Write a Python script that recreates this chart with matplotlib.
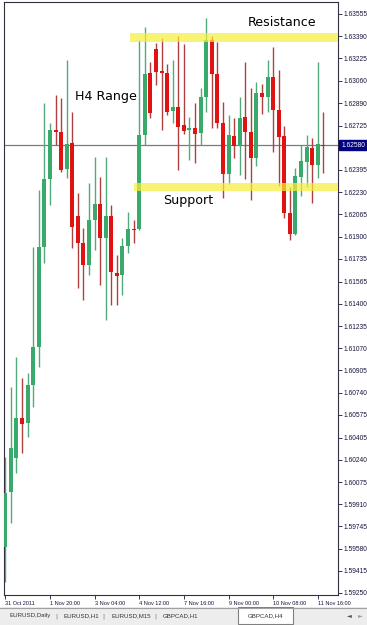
import matplotlib.pyplot as plt
from matplotlib import font_manager
from matplotlib.patches import Rectangle

# GBPCAD H4 candles
opens = [1.59592, 1.60001, 1.60254, 1.60551, 1.60514, 1.60797, 1.61079, 1.61823, 1.62328, 1.62693,
         1.62678, 1.62403, 1.62596, 1.62053, 1.61852, 1.61689, 1.62023, 1.62142, 1.61890, 1.62053,
         1.61629, 1.61615, 1.61830, 1.61956, 1.61956, 1.62655, 1.63116, 1.63295, 1.63131, 1.63116,
         1.62834, 1.62864, 1.62730, 1.62693, 1.62707, 1.62670, 1.62938, 1.63362, 1.63109, 1.62745,
         1.62365, 1.62648, 1.62574, 1.62789, 1.62678, 1.62484, 1.62968, 1.62938, 1.63087, 1.62841,
         1.62648, 1.62075, 1.61919, 1.62343, 1.62455, 1.62559, 1.62432, 1.62581]
highs = [1.60261, 1.60782, 1.61005, 1.60849, 1.60886, 1.61823, 1.62246, 1.62893, 1.62745, 1.62953,
         1.62930, 1.63213, 1.62826, 1.62224, 1.61964, 1.62298, 1.62492, 1.62343, 1.62492, 1.62135,
         1.61763, 1.61890, 1.62083, 1.62023, 1.63362, 1.63458, 1.63198, 1.63339, 1.63377, 1.63183,
         1.63213, 1.63391, 1.63332, 1.62789, 1.62893, 1.63005, 1.63525, 1.63391, 1.63347, 1.62901,
         1.62804, 1.62782, 1.62938, 1.63198, 1.63005, 1.63049, 1.63035, 1.63213, 1.63310, 1.63139,
         1.62722, 1.62269, 1.62410, 1.62581, 1.62655, 1.62633, 1.63198, 1.62826]
lows = [1.59332, 1.59771, 1.60142, 1.60291, 1.60410, 1.60633, 1.60930, 1.61704, 1.62135, 1.62581,
        1.62380, 1.62336, 1.61815, 1.61518, 1.61429, 1.61615, 1.61800, 1.61540, 1.61280, 1.61391,
        1.61391, 1.61466, 1.61778, 1.61852, 1.61949, 1.62581, 1.62782, 1.63027, 1.62693, 1.62804,
        1.62745, 1.62395, 1.62663, 1.62470, 1.62447, 1.62581, 1.62826, 1.62707, 1.62707, 1.62187,
        1.62291, 1.62484, 1.62358, 1.62328, 1.62172, 1.62425, 1.62812, 1.62826, 1.62529, 1.62276,
        1.62038, 1.61875, 1.61912, 1.62202, 1.62269, 1.62150, 1.62336, 1.62373]
closes = [1.59994, 1.60328, 1.60551, 1.60507, 1.60797, 1.61079, 1.61823, 1.62328, 1.62693, 1.62678,
          1.62395, 1.62588, 1.61971, 1.61852, 1.61689, 1.62023, 1.62142, 1.61890, 1.62053, 1.61637,
          1.61607, 1.61830, 1.61956, 1.61949, 1.62655, 1.63109, 1.62819, 1.63124, 1.63116, 1.62826,
          1.62864, 1.62715, 1.62685, 1.62707, 1.62663, 1.62938, 1.63362, 1.63109, 1.62745, 1.62365,
          1.62655, 1.62574, 1.62782, 1.62678, 1.62484, 1.62968, 1.62938, 1.63087, 1.62841, 1.62641,
          1.62075, 1.61919, 1.62351, 1.62462, 1.62566, 1.62432, 1.62588, 1.62574]

price_ticks = [1.63555, 1.63390, 1.63225, 1.63060, 1.62890, 1.62725, 1.62395, 1.62230,
               1.62065, 1.61900, 1.61735, 1.61565, 1.61400, 1.61235, 1.61070, 1.60905,
               1.60740, 1.60575, 1.60405, 1.60240, 1.60075, 1.59910, 1.59745, 1.59580,
               1.59415, 1.59250]
time_labels = ['31 Oct 2011', '1 Nov 20:00', '3 Nov 04:00', '4 Nov 12:00',
               '7 Nov 16:00', '9 Nov 00:00', '10 Nov 08:00', '11 Nov 16:00']
label_step = 8
last_price = 1.62580
resistance = 1.63380
support = 1.62270
tabs = ['EURUSD,Daily', 'EURUSD,H1', 'EURUSD,M15', 'GBPCAD,H1', 'GBPCAD,H4']

up_col, up_wick = '#3aaa6c', '#52a97c'
dn_col, dn_wick = '#e01212', '#b04040'
axis_col = '#14143c'

have = {f.name for f in font_manager.fontManager.ttflist}
small_font = 'Liberation Sans Narrow' if 'Liberation Sans Narrow' in have else 'Liberation Sans'

fig = plt.figure(figsize=(3.67, 6.25), dpi=100)
renderer = fig.canvas.get_renderer()


def fit_size(s, family, target_px):
    # font size that makes string s about target_px wide
    t = fig.text(0, 0, s, fontsize=10, family=family)
    w = t.get_window_extent(renderer).width
    t.remove()
    return 10 * target_px / w


ysize = fit_size('1.63555', small_font, 24)
xsize = fit_size('1 Nov 20:00', small_font, 30)
tabsize = fit_size('EURUSD,Daily', small_font, 41)
big = fit_size('Resistance', 'DejaVu Sans', 68)

ax = fig.add_axes([4 / 367, 30 / 625, 334 / 367, 593 / 625])

for i in range(len(opens)):
    o, h, l, c = opens[i], highs[i], lows[i], closes[i]
    up = c >= o
    ax.vlines(i, l, h, color=up_wick if up else dn_wick, lw=1, zorder=2)
    ax.bar(i, max(abs(c - o), 0.00003), bottom=min(o, c), width=0.72,
           color=up_col if up else dn_col, lw=0, zorder=3)

# support / resistance zones
ax.axhspan(resistance - 0.00033, resistance + 0.00033, xmin=0.378, xmax=1,
           color='#f6ef3c', alpha=0.72, lw=0, zorder=4)
ax.axhspan(support - 0.00031, support + 0.00031, xmin=0.39, xmax=1,
           color='#f6ef3c', alpha=0.72, lw=0, zorder=4)
ax.axhline(last_price, color='#7c7c7c', lw=0.9, zorder=1)

ax.text(43.5, 1.63488, 'Resistance', fontsize=big, va='center', zorder=5)
ax.text(12.5, 1.62938, 'H4 Range', fontsize=big, va='center', zorder=5)
ax.text(28.3, 1.62165, 'Support', fontsize=big, va='center', zorder=5)

ax.set_xlim(-0.233, 59.62)
ax.set_ylim(1.59235, 1.63644)

ax.yaxis.tick_right()
ax.set_yticks(price_ticks)
ax.set_yticklabels([f'{v:.5f}' for v in price_ticks], family=small_font)
ax.tick_params(axis='y', labelsize=ysize, colors=axis_col, length=3, pad=1.0, width=0.6)

ax.set_xticks(range(0, len(opens), label_step))
ax.set_xticklabels(time_labels, ha='left', family=small_font)
ax.tick_params(axis='x', labelsize=xsize, colors=axis_col, length=3, pad=1.5, width=0.6)

for s in ax.spines.values():
    s.set_color('#303040')
    s.set_linewidth(0.8)

# current price tag
ax.annotate(f'{last_price:.5f}', xy=(1.0, last_price), xycoords=('axes fraction', 'data'),
            xytext=(2.2, 0), textcoords='offset points', fontsize=ysize, family=small_font,
            color='white', va='center', ha='left',
            bbox=dict(boxstyle='square,pad=0.25', fc='#000080', ec='#000080'),
            annotation_clip=False, zorder=6)

# tab strip at the bottom
tb = fig.add_axes([0, 0, 1, 18 / 625])
tb.set_xlim(0, 367)
tb.set_ylim(0, 18)
tb.axis('off')
tb.add_patch(Rectangle((0, 0), 367, 18, fc='#ededed', ec='none'))
tb.plot([0, 367], [17.5, 17.5], color='#a0a0a0', lw=0.8)
tb.add_patch(Rectangle((238, 1.5), 55, 16.5, fc='white', ec='#808080', lw=0.8))
tab_x = [10, 63, 112, 163, 248]
sep_x = [56, 103, 155]
for t, x in zip(tabs, tab_x):
    tb.text(x, 9, t, fontsize=tabsize, family=small_font, color='#333333', va='center')
for x in sep_x:
    tb.text(x, 9, '|', fontsize=tabsize, color='#707070', va='center', ha='center')
tb.text(349, 9, '◄', fontsize=4.5, color='#505050', va='center', ha='center')
tb.text(360, 9, '►', fontsize=4.5, color='#a0a0a0', va='center', ha='center')

fig.savefig('out.png', dpi=100)
